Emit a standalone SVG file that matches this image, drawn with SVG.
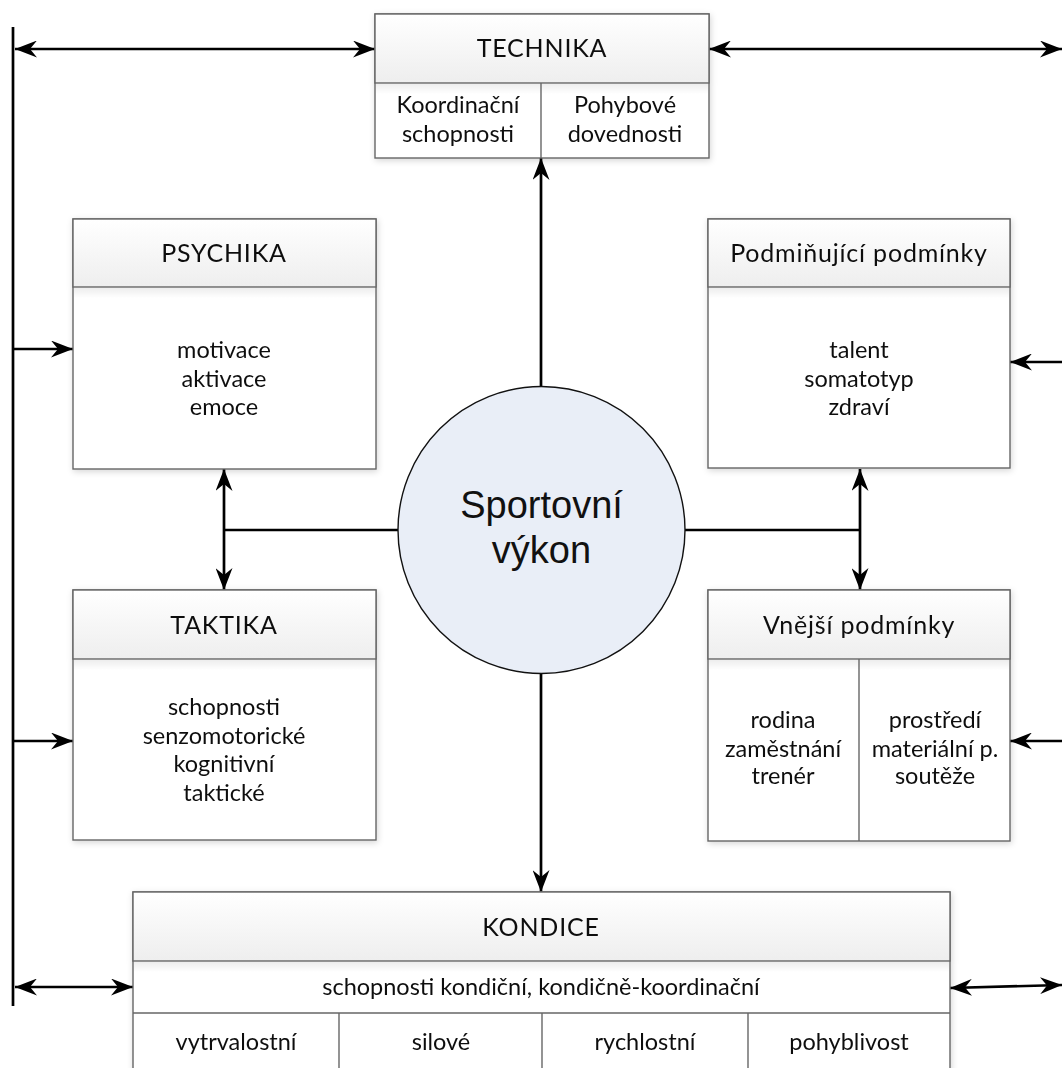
<svg xmlns="http://www.w3.org/2000/svg" width="1062" height="1068" viewBox="0 0 1062 1068">
  <defs>
    <linearGradient id="hdr" x1="0" y1="0" x2="0" y2="1">
      <stop offset="0" stop-color="#ffffff"/>
      <stop offset="1" stop-color="#eeeeee"/>
    </linearGradient>
    <linearGradient id="under" x1="0" y1="0" x2="0" y2="1">
      <stop offset="0" stop-color="#000000" stop-opacity="0.07"/>
      <stop offset="1" stop-color="#000000" stop-opacity="0"/>
    </linearGradient>
    <filter id="shadow" x="-10%" y="-10%" width="120%" height="130%">
      <feDropShadow dx="1" dy="2" stdDeviation="3" flood-color="#000" flood-opacity="0.16"/>
    </filter>
    <marker id="head" viewBox="0 0 22 17" refX="22" refY="8.5" markerWidth="22" markerHeight="17" markerUnits="userSpaceOnUse" orient="auto-start-reverse">
      <path d="M0,0 L22,8.5 L0,17 L7,8.5 z" fill="#000"/>
    </marker>
  </defs>
  <style>
    .box { fill: #ffffff; stroke: #666666; stroke-width: 1.4; }
    .hd { fill: url(#hdr); stroke: #666666; stroke-width: 1.4; }
    .sep { stroke: #666666; stroke-width: 1.4; fill: none; }
    .t { font-family: Lato, "Open Sans", sans-serif; font-size: 23.5px; fill: #111111; text-anchor: middle; }
    .h { font-family: Lato, "Open Sans", sans-serif; font-size: 25px; letter-spacing: 0.8px; fill: #111111; text-anchor: middle; }
    .big { font-family: "Liberation Sans", Arial, sans-serif; font-size: 38px; fill: #111111; text-anchor: middle; }
    .c { stroke: #000000; stroke-width: 2.7; fill: none; }
    .a2 { marker-start: url(#head); marker-end: url(#head); }
    .a1 { marker-end: url(#head); }
  </style>

  <rect width="1062" height="1068" fill="#ffffff"/>

  <!-- connectors -->
  <g id="connectors">
    <line class="c" x1="13" y1="27" x2="13" y2="1006" stroke-width="3"/>
    <line class="c a2" x1="15" y1="49" x2="375" y2="49"/>
    <line class="c a2" x1="709" y1="49" x2="1062" y2="49"/>
    <line class="c a1" x1="13" y1="349" x2="73" y2="349"/>
    <line class="c a1" x1="13" y1="741" x2="73" y2="741"/>
    <line class="c a1" x1="1062" y1="362" x2="1010" y2="362"/>
    <line class="c a1" x1="1062" y1="741" x2="1010" y2="741"/>
    <line class="c a2" x1="15" y1="987" x2="133" y2="987"/>
    <line class="c a2" x1="950" y1="988" x2="1062" y2="985"/>
    <line class="c a1" x1="541" y1="387" x2="541" y2="158"/>
    <line class="c a1" x1="541" y1="673" x2="541" y2="892"/>
    <line class="c" x1="398" y1="530" x2="224" y2="530"/>
    <line class="c a2" x1="224" y1="469" x2="224" y2="590"/>
    <line class="c" x1="685" y1="530" x2="860" y2="530"/>
    <line class="c a2" x1="860" y1="469" x2="860" y2="590"/>
  </g>

  <!-- TECHNIKA -->
  <g id="technika" filter="url(#shadow)">
    <rect class="box" x="375" y="14" width="334" height="144"/>
    <rect class="hd" x="375" y="14" width="334" height="69"/>
    <rect x="376" y="84" width="332" height="10" fill="url(#under)"/>
    <line class="sep" x1="541" y1="83" x2="541" y2="158"/>
    <text class="h" x="542" y="57">TECHNIKA</text>
    <text class="t" x="458" y="113">Koordinační</text>
    <text class="t" x="458" y="142">schopnosti</text>
    <text class="t" x="625" y="113">Pohybové</text>
    <text class="t" x="625" y="142">dovednosti</text>
  </g>

  <!-- PSYCHIKA -->
  <g id="psychika" filter="url(#shadow)">
    <rect class="box" x="73" y="219" width="303" height="250"/>
    <rect class="hd" x="73" y="219" width="303" height="68"/>
    <rect x="74" y="288" width="301" height="10" fill="url(#under)"/>
    <text class="h" x="224" y="262">PSYCHIKA</text>
    <text class="t" x="224" y="358">motivace</text>
    <text class="t" x="224" y="387">aktivace</text>
    <text class="t" x="224" y="415">emoce</text>
  </g>

  <!-- TAKTIKA -->
  <g id="taktika" filter="url(#shadow)">
    <rect class="box" x="73" y="590" width="303" height="250"/>
    <rect class="hd" x="73" y="590" width="303" height="69"/>
    <rect x="74" y="660" width="301" height="10" fill="url(#under)"/>
    <text class="h" x="224" y="634">TAKTIKA</text>
    <text class="t" x="224" y="715">schopnosti</text>
    <text class="t" x="224" y="744">senzomotorické</text>
    <text class="t" x="224" y="772">kognitivní</text>
    <text class="t" x="224" y="801">taktické</text>
  </g>

  <!-- Podmiňující podmínky -->
  <g id="podminujici" filter="url(#shadow)">
    <rect class="box" x="708" y="219" width="302" height="249"/>
    <rect class="hd" x="708" y="219" width="302" height="68"/>
    <rect x="709" y="288" width="300" height="10" fill="url(#under)"/>
    <text class="h" x="859" y="262" letter-spacing="1.2">Podmiňující podmínky</text>
    <text class="t" x="859" y="358">talent</text>
    <text class="t" x="859" y="387">somatotyp</text>
    <text class="t" x="859" y="415">zdraví</text>
  </g>

  <!-- Vnější podmínky -->
  <g id="vnejsi" filter="url(#shadow)">
    <rect class="box" x="708" y="590" width="302" height="251"/>
    <rect class="hd" x="708" y="590" width="302" height="69"/>
    <rect x="709" y="660" width="300" height="10" fill="url(#under)"/>
    <line class="sep" x1="859" y1="659" x2="859" y2="841"/>
    <text class="h" x="859" y="634">Vnější podmínky</text>
    <text class="t" x="783" y="728">rodina</text>
    <text class="t" x="783" y="757">zaměstnání</text>
    <text class="t" x="783" y="784">trenér</text>
    <text class="t" x="935" y="728">prostředí</text>
    <text class="t" x="935" y="757">materiální p.</text>
    <text class="t" x="935" y="784">soutěže</text>
  </g>

  <!-- KONDICE -->
  <g id="kondice" filter="url(#shadow)">
    <rect class="box" x="133" y="892" width="817" height="190"/>
    <rect class="hd" x="133" y="892" width="817" height="69"/>
    <rect x="134" y="962" width="815" height="10" fill="url(#under)"/>
    <line class="sep" x1="133" y1="1013" x2="950" y2="1013"/>
    <line class="sep" x1="339" y1="1013" x2="339" y2="1068"/>
    <line class="sep" x1="542" y1="1013" x2="542" y2="1068"/>
    <line class="sep" x1="748" y1="1013" x2="748" y2="1068"/>
    <text class="h" x="541" y="936">KONDICE</text>
    <text class="t" x="541" y="995">schopnosti kondiční, kondičně-koordinační</text>
    <text class="t" x="236" y="1050">vytrvalostní</text>
    <text class="t" x="441" y="1050">silové</text>
    <text class="t" x="645" y="1050">rychlostní</text>
    <text class="t" x="849" y="1050">pohyblivost</text>
  </g>

  <!-- Sportovní výkon -->
  <g id="vykon">
    <circle cx="541.5" cy="530" r="143.5" fill="#e9eef7" stroke="#111111" stroke-width="1.4"/>
    <text class="big" x="541.5" y="518">Sportovní</text>
    <text class="big" x="541.5" y="563">výkon</text>
  </g>
</svg>
